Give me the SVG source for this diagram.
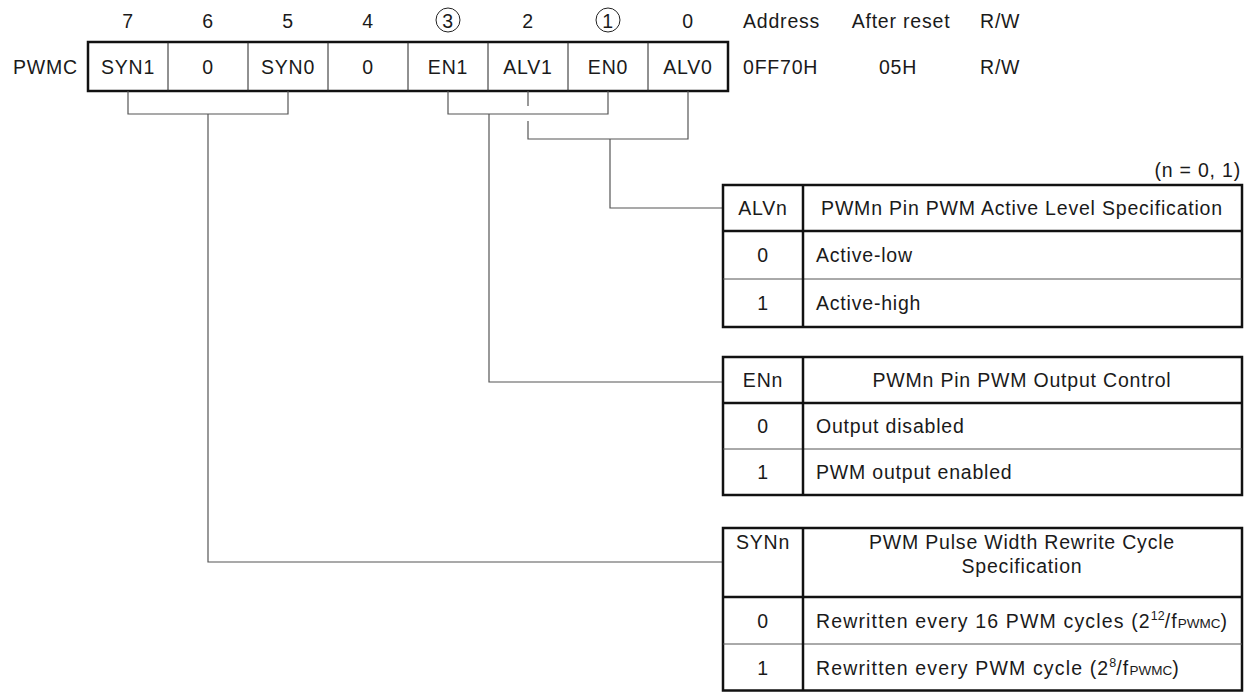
<svg xmlns="http://www.w3.org/2000/svg" width="1253" height="692" viewBox="0 0 1253 692">
<style>
text{font-family:"Liberation Sans",Arial,sans-serif;font-size:19.5px;letter-spacing:0.8px;fill:#1a1a1a}
.c{text-anchor:middle}
.e{text-anchor:end}
.w{letter-spacing:1.15px}
.outer{fill:none;stroke:#111;stroke-width:2.5}
.thick{stroke:#111;stroke-width:2.5}
.thin{stroke:#222;stroke-width:1}
.row{stroke:#555;stroke-width:1}
.conn{fill:none;stroke:#555;stroke-width:1.2}
.circ{fill:none;stroke:#222;stroke-width:1}
.sm{font-size:12.5px;letter-spacing:0}
.sc{font-size:13.5px;letter-spacing:0}
</style>
<rect width="1253" height="692" fill="#fff"/>

<g id="bit-numbers">
<text class="c" x="128" y="28">7</text>
<text class="c" x="208" y="28">6</text>
<text class="c" x="288" y="28">5</text>
<text class="c" x="368" y="28">4</text>
<circle class="circ" cx="448" cy="20" r="12"/>
<text class="c" x="448" y="28">3</text>
<text class="c" x="528" y="28">2</text>
<circle class="circ" cx="608" cy="20" r="12"/>
<text class="c" x="608" y="28">1</text>
<text class="c" x="688" y="28">0</text>
<text x="743" y="28">Address</text>
<text class="c" x="901" y="28">After reset</text>
<text x="980" y="28">R/W</text>
</g>

<g id="register">
<text class="e" x="78" y="73.5">PWMC</text>
<rect class="outer" x="88" y="42" width="640" height="49"/>
<line class="thin" x1="168" y1="42" x2="168" y2="91"/>
<line class="thin" x1="248" y1="42" x2="248" y2="91"/>
<line class="thin" x1="328" y1="42" x2="328" y2="91"/>
<line class="thin" x1="408" y1="42" x2="408" y2="91"/>
<line class="thin" x1="488" y1="42" x2="488" y2="91"/>
<line class="thin" x1="568" y1="42" x2="568" y2="91"/>
<line class="thin" x1="648" y1="42" x2="648" y2="91"/>
<text class="c" x="128" y="73.5">SYN1</text>
<text class="c" x="208" y="73.5">0</text>
<text class="c" x="288" y="73.5">SYN0</text>
<text class="c" x="368" y="73.5">0</text>
<text class="c" x="448" y="73.5">EN1</text>
<text class="c" x="528" y="73.5">ALV1</text>
<text class="c" x="608" y="73.5">EN0</text>
<text class="c" x="688" y="73.5">ALV0</text>
<text x="743" y="73.5">0FF70H</text>
<text class="c" x="898" y="73.5">05H</text>
<text x="980" y="73.5">R/W</text>
</g>

<g id="connectors">
<path class="conn" d="M128,91 V114 H288 V91"/>
<path class="conn" d="M208,114 V562 H723"/>
<path class="conn" d="M448,91 V114 H608 V91"/>
<path class="conn" d="M489,114 V382 H723"/>
<path class="conn" d="M528,91 V106 M528,121 V139 H688 V91"/>
<path class="conn" d="M610,139 V208 H723"/>
</g>

<g id="note">
<text class="e" x="1241" y="177">(n = 0, 1)</text>
</g>

<g id="table-alv">
<rect class="outer" x="723" y="185" width="519" height="142"/>
<line class="thick" x1="723" y1="231" x2="1242" y2="231"/>
<line class="row" x1="723" y1="279" x2="1242" y2="279"/>
<line class="thick" x1="803" y1="185" x2="803" y2="327"/>
<text class="c" x="763" y="215">ALVn</text>
<text class="c" x="1022" y="215">PWMn Pin PWM Active Level Specification</text>
<text class="c" x="763" y="262">0</text>
<text x="816" y="262">Active-low</text>
<text class="c" x="763" y="310">1</text>
<text x="816" y="310">Active-high</text>
</g>

<g id="table-en">
<rect class="outer" x="723" y="357" width="519" height="138"/>
<line class="thick" x1="723" y1="403" x2="1242" y2="403"/>
<line class="row" x1="723" y1="449" x2="1242" y2="449"/>
<line class="thick" x1="803" y1="357" x2="803" y2="495"/>
<text class="c" x="763" y="387">ENn</text>
<text class="c" x="1022" y="387">PWMn Pin PWM Output Control</text>
<text class="c" x="763" y="433">0</text>
<text x="816" y="433">Output disabled</text>
<text class="c" x="763" y="479">1</text>
<text x="816" y="479">PWM output enabled</text>
</g>

<g id="table-syn">
<rect class="outer" x="723" y="528" width="519" height="162.5"/>
<line class="thick" x1="723" y1="597" x2="1242" y2="597"/>
<line class="row" x1="723" y1="644" x2="1242" y2="644"/>
<line class="thick" x1="803" y1="528" x2="803" y2="690.5"/>
<text class="c" x="763" y="549">SYNn</text>
<text class="c" x="1022" y="549">PWM Pulse Width Rewrite Cycle</text>
<text class="c" x="1022" y="573">Specification</text>
<text class="c" x="763" y="628">0</text>
<text class="w" x="816" y="628">Rewritten every 16 PWM cycles (2<tspan class="sm" dy="-8">12</tspan><tspan dy="8">/f</tspan><tspan class="sc">PWMC</tspan>)</text>
<text class="c" x="763" y="675">1</text>
<text class="w" x="816" y="675">Rewritten every PWM cycle (2<tspan class="sm" dy="-8">8</tspan><tspan dy="8">/f</tspan><tspan class="sc">PWMC</tspan>)</text>
</g>
</svg>
